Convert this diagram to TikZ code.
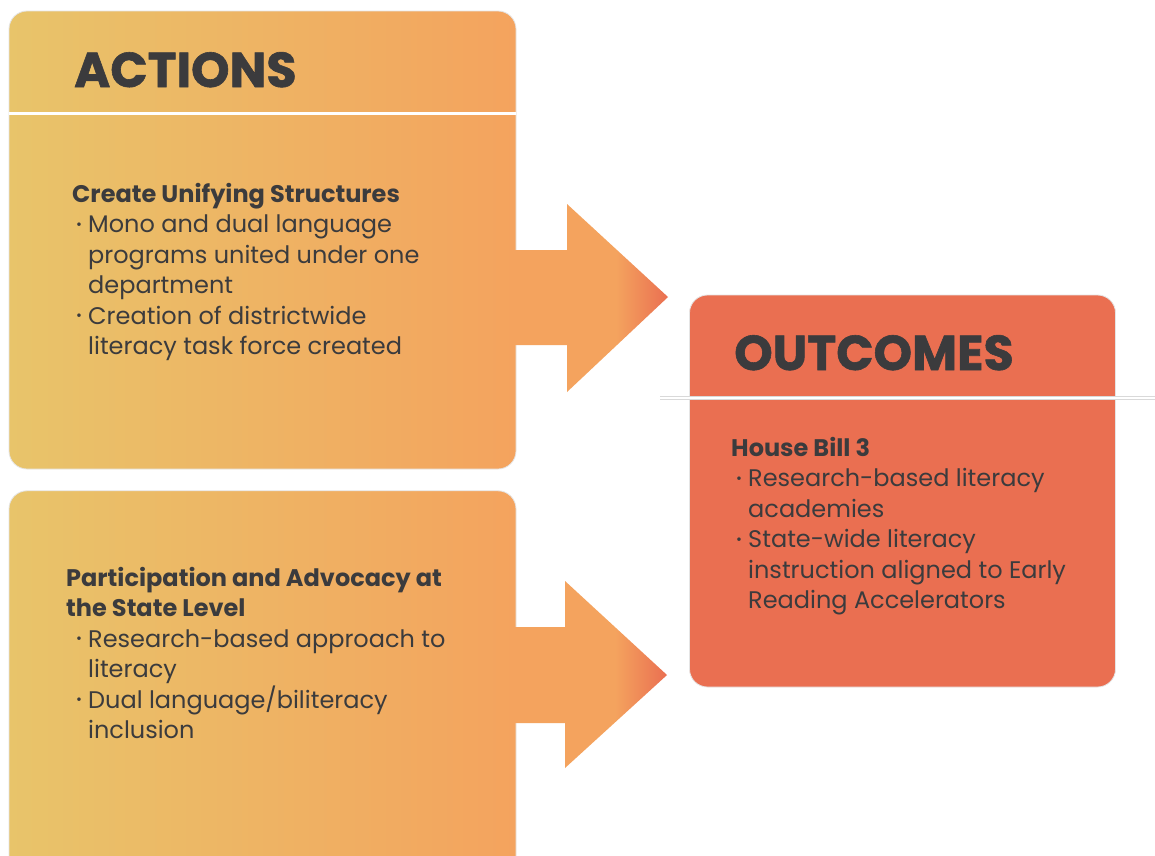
\documentclass[tikz,border=0pt]{standalone}
\usepackage{fontspec}
\setmainfont{Poppins}
\newfontfamily\heavyfont{Poppins}[BoldFeatures={FakeBold=1.2}]
\usetikzlibrary{positioning}
\definecolor{actleft}{RGB}{232,196,106}
\definecolor{actright}{RGB}{244,163,94}
\definecolor{outfill}{RGB}{234,111,81}
\definecolor{ink}{RGB}{59,59,61}
\pgfdeclarehorizontalshading{arrowshade}{100bp}{color(0bp)=(actright); color(25bp)=(actright); color(58bp)=(actright); color(75bp)=(outfill); color(100bp)=(outfill)}
\tikzstyle{actionbox} = [rectangle, rounded corners=18pt, draw=black!10, line width=0.8pt, left color=actleft, right color=actright, minimum width=507pt]
\tikzstyle{outcomebox} = [rectangle, rounded corners=18pt, draw=black!10, line width=0.8pt, fill=outfill, minimum width=426pt, minimum height=392pt]
\tikzstyle{headline} = [inner sep=0pt, text=ink, font=\fontsize{49}{49}\selectfont\heavyfont\bfseries]
\tikzstyle{bodytext} = [inner sep=0pt, text=ink, align=left, font=\fontsize{24}{30.5}\selectfont]
\tikzstyle{blockarrow} = [shading=arrowshade]
\tikzstyle{divider} = [white, line width=3pt]
\newcommand\bul{\makebox[12pt][l]{\raisebox{0.25ex}{\scalebox{0.6}{•}}}}
\newcommand\cont{\hspace*{12pt}}

\begin{document}
\begin{tikzpicture}[x=1pt, y=-1pt]
    \useasboundingbox (0,0) rectangle (1155,855);
    \clip (0,0) rectangle (1155,855);
    \fill[white] (0,0) rectangle (1155,855);

        % Boxes
        \node (actbox) [actionbox, minimum height=458pt] at (262.5,240) {};
        \node (advbox) [actionbox, minimum height=410pt, below=21pt of actbox] {};
        \node (outbox) [outcomebox] at (902.5,491) {};

        % Arrows
        \coordinate (shaftA) at ([xshift=-1pt]actbox.east);
        \coordinate (shaftB) at ([xshift=-1pt]advbox.east);
        \coordinate (tipA) at (668,297);
        \coordinate (tipB) at (667,675);
        \path[blockarrow] (shaftA |- 0,250) -- (567,250) -- (567,204) -- (tipA) -- (567,392) -- (567,345) -- (shaftA |- 0,345) -- cycle;
        \path[blockarrow] (shaftB |- 0,627) -- (565,627) -- (565,581) -- (tipB) -- (565,768) -- (565,723) -- (shaftB |- 0,723) -- cycle;

        % Dividers
        \draw[divider] (actbox.west |- 0,113) -- (actbox.east |- 0,113);
        \draw[black!15, line width=4.5pt] (660,398) -- (1155,398);
        \draw[divider, line width=2.5pt] (660,398) -- (1155,398);

        % Texts (anchored at the last line's baseline)
        \node (acttitle) [headline, anchor=base west] at (74,87) {ACTIONS};
        \node (outtitle) [headline, anchor=base west] at (734,370) {OUTCOMES};
        \node (acttext) [bodytext, anchor=base west] at (72,354.5) {\textbf{Create Unifying Structures}\\
            \hspace*{4pt}\bul Mono and dual language\\
            \hspace*{4pt}\cont programs united under one\\
            \hspace*{4pt}\cont department\\
            \hspace*{4pt}\bul Creation of districtwide\\
            \hspace*{4pt}\cont literacy task force created};
        \node (advtext) [bodytext, anchor=base west] at (66,738.5) {\textbf{Participation and Advocacy at}\\
            \textbf{the State Level}\\
            \hspace*{10pt}\bul Research-based approach to\\
            \hspace*{10pt}\cont literacy\\
            \hspace*{10pt}\bul Dual language/biliteracy\\
            \hspace*{10pt}\cont inclusion};
        \node (outtext) [bodytext, anchor=base west] at (731,608.5) {\textbf{House Bill 3}\\
            \hspace*{5pt}\bul Research-based literacy\\
            \hspace*{5pt}\cont academies\\
            \hspace*{5pt}\bul State-wide literacy\\
            \hspace*{5pt}\cont instruction aligned to Early\\
            \hspace*{5pt}\cont Reading Accelerators};

\end{tikzpicture}
\end{document}
